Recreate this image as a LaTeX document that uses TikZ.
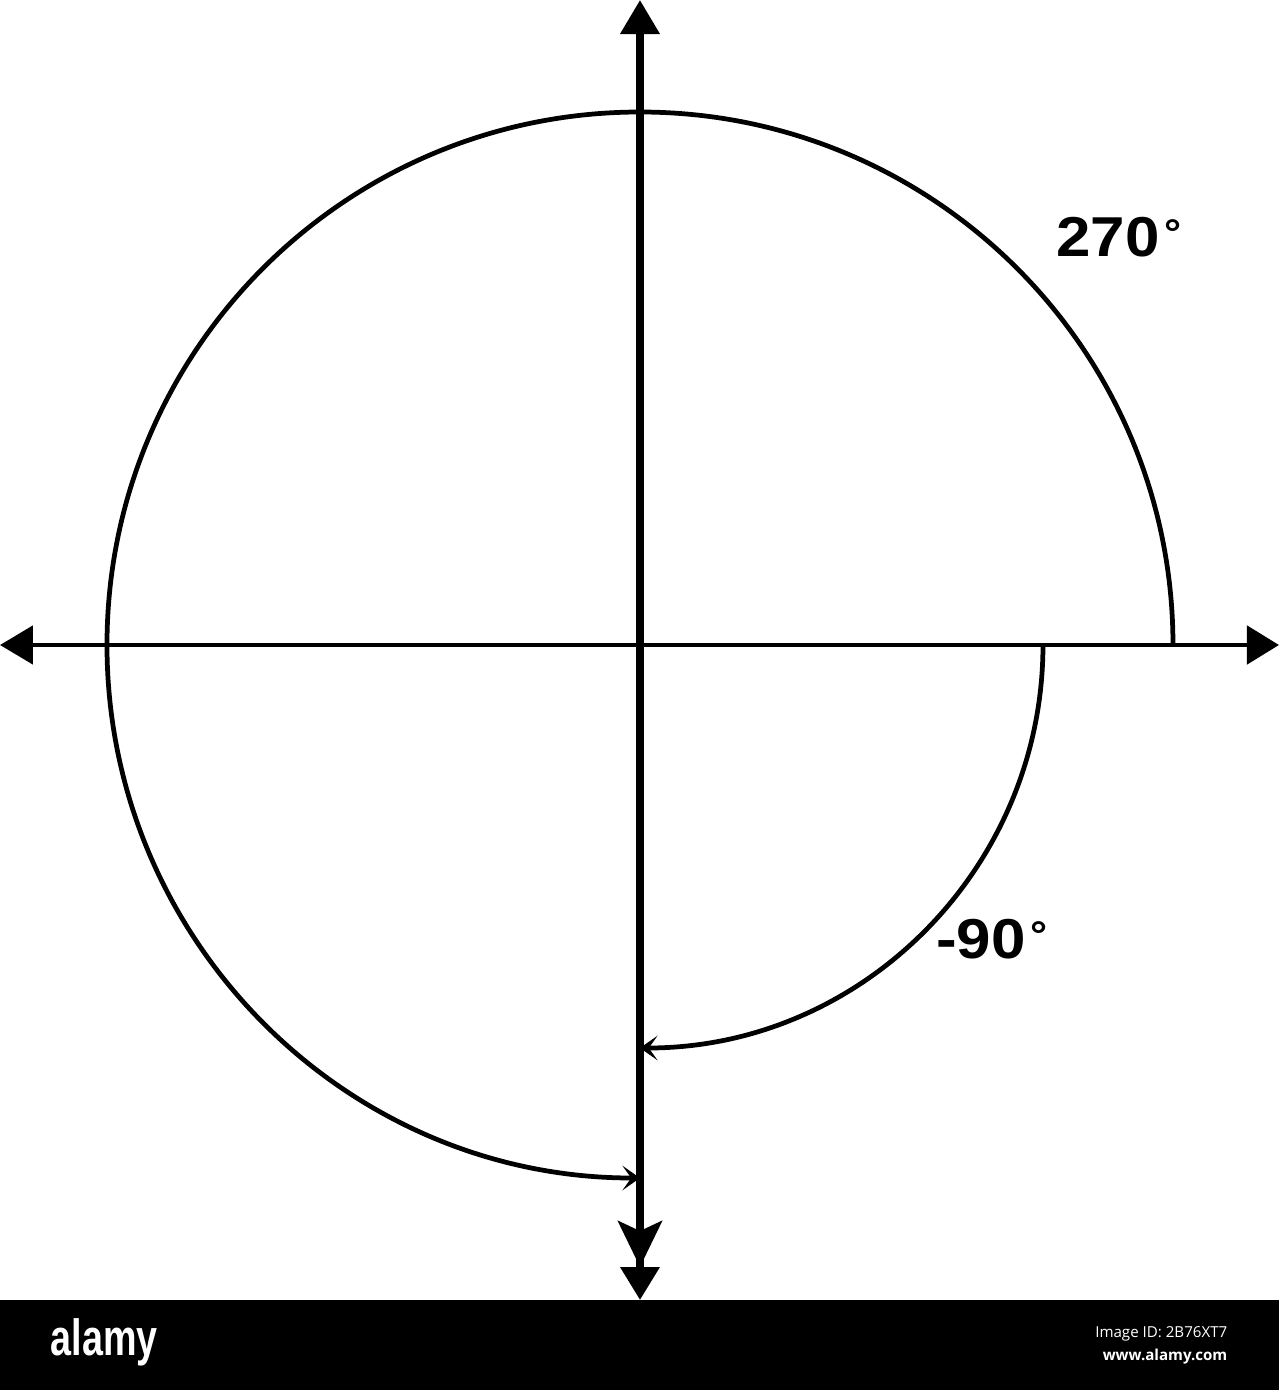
\documentclass[tikz,border=0pt]{standalone}
\usepackage{graphicx}
\usepackage{fontspec}
\setmainfont{Liberation Sans}
\newfontfamily\wmfont{Open Sans}
\usetikzlibrary{arrows.meta}
\newcommand{\dg}{\kern0.08em\raisebox{0.18em}{\fontsize{11}{12}\selectfont °}}

\begin{document}
\begin{tikzpicture}[
  axis/.style={line width=1.4pt},
  circ/.style={line width=1.35pt},
  deg/.style={font=\bfseries\fontsize{16}{18}\selectfont, inner sep=0pt},
  wm/.style={text=white, inner sep=0pt}]
  \useasboundingbox (-6.40,-7.45) rectangle (6.39,6.45);
  % define the coordinates
  \coordinate (O) at (0, 0);
  \coordinate (L) at (-6.40, 0);
  \coordinate (R) at (6.39, 0);
  \coordinate (T) at (0, 6.45);
  \coordinate (B) at (0, -6.55);
    \coordinate (P) at (5.33, 0);
    \coordinate (Q) at (4.03, 0);
  % draw the axis
  \draw[axis, {Triangle[length=3.3mm,width=3.8mm]}-{Triangle[length=3.2mm,width=3.8mm]}] (L) -- (R);
  \draw[axis, line width=2pt, {Triangle[length=3.4mm,width=3.8mm]}-{Stealth[length=4.6mm,width=4.4mm,inset=1mm] Triangle[length=3.3mm,width=3.8mm]}] (T) -- (B);
  % draw the arcs
  \draw[circ, -{Stealth[length=5pt,width=7pt,inset=2.5pt]}] (P) arc[start angle=0, end angle=270, radius=5.33];
  \draw[circ, -{Stealth[length=5pt,width=7pt,inset=2.5pt]}] (Q) arc[start angle=0, end angle=-90, radius=4.03];
  \node[deg] (a270) at (4.79, 4.08) {\scalebox{1.1}[1]{270\dg}};
  \node[deg] (am90) at (3.52, -2.94) {\scalebox{1.1}[1]{-90\dg}};
  % the bar at the bottom
  \fill (-6.40,-6.55) rectangle (6.39,-7.45);
  \node[wm, anchor=base west, font=\bfseries\fontsize{14.5}{15}\selectfont] (logo) at (-5.90,-7.10) {\scalebox{0.74}[1]{alamy}};
  \node[wm, anchor=base east, font=\wmfont\fontsize{4.3}{5}\selectfont] (imgid) at (5.88,-6.92) {Image ID: 2B76XT7};
  \node[wm, anchor=base east, font=\wmfont\bfseries\fontsize{4.3}{5}\selectfont] (url) at (5.88,-7.15) {www.alamy.com};
\end{tikzpicture}
\end{document}
